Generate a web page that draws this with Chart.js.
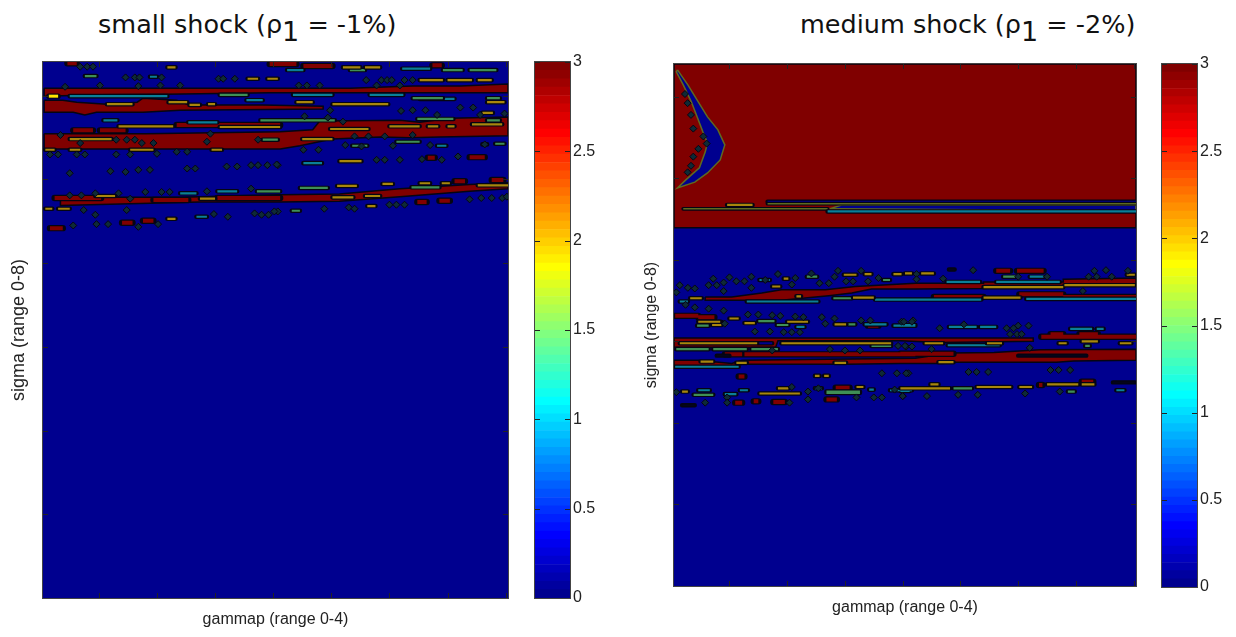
<!DOCTYPE html>
<html>
<head>
<meta charset="utf-8">
<script src="https://cdn.jsdelivr.net/npm/chart.js@4"></script>
<style>
  html, body { margin: 0; padding: 0; background: #fff; width: 1236px; height: 637px; overflow: hidden; }
  canvas { position: absolute; top: 0; }
  #smallMap, #mediumMap { filter: blur(0.6px); }
  .title { position: absolute; font: 25.5px "DejaVu Sans", sans-serif; color: #111; white-space: pre; }
  .title sub { font-size: 27px; line-height: 0; vertical-align: -8px; }
</style>
</head>
<body>
<div class="title" style="left:98px;top:9px">small shock (ρ<sub>1</sub> = -1%)</div>
<div class="title" style="left:800px;top:9px">medium shock (ρ<sub>1</sub> = -2%)</div>
<canvas id="smallMap" width="525" height="637" style="left:0"></canvas>
<canvas id="smallBar" width="75" height="637" style="left:525px"></canvas>
<canvas id="mediumMap" width="525" height="637" style="left:630px"></canvas>
<canvas id="mediumBar" width="75" height="637" style="left:1152px"></canvas>
<script>
// -------- DATA (gammap 0-4, sigma 0-8) --------
const gammaTicks = [0.48, 0.98, 1.48, 1.98, 2.48, 2.98, 3.48, 3.98];
const sigmaTicks = [1.25, 2.5, 3.75, 5, 6.25, 7.5];
const barTicks = [0, 0.5, 1, 1.5, 2, 2.5, 3];
const xTitle = 'gammap (range 0-4)';
const yTitle = 'sigma (range 0-8)';

// closed regions [gamma, sigma]
const smallRedShapes = [
  [[.01,7.61],[1.35,7.61],[2.64,7.61],[3.18,7.64],[3.59,7.64],[4,7.67],[4,7.54],[3.18,7.54],[2.64,7.54],[1.95,7.54],[1.05,7.52],[.49,7.51],[.01,7.49]],
  [[.01,7.43],[.17,7.43],[.29,7.40],[.55,7.37],[.81,7.40],[.86,7.46],[1.15,7.43],[1.26,7.36],[1.89,7.36],[2.41,7.34],[2.41,7.30],[1.18,7.28],[.86,7.25],[.46,7.25],[.36,7.21],[.26,7.25],[.01,7.25]],
  [[.01,6.93],[.88,6.93],[2.04,6.96],[2.32,6.99],[2.38,7.12],[3.07,7.13],[3.24,7.10],[3.50,7.16],[4,7.18],[4,6.90],[3.41,6.88],[3.16,6.87],[2.90,6.88],[2.49,6.85],[2.21,6.75],[2.04,6.70],[.01,6.70]],
  [[.15,5.98],[1.18,5.98],[2.04,6.02],[2.55,6.03],[3.07,6.11],[3.67,6.17],[4,6.20],[4,6.11],[3.67,6.07],[3.07,5.99],[2.55,5.92],[2.04,5.91],[1.35,5.91],[.15,5.86]]
];
// streaks [gamma from, gamma to, sigma]
const smallRed = [[.21,.29,7.98],[1.95,2.18,7.97],[2.24,2.49,7.94],[3.35,3.43,7.95],[.26,.43,6.98],[.49,.71,6.98],[1.15,2.04,7.06],[3.31,3.37,6.57],[3.67,3.80,6.58],[.17,.34,5.97],[3.86,3.96,6.24],[3.54,3.63,6.22],[3.22,3.30,5.91],[3.41,3.50,5.93],[.68,.77,5.60],[.86,.95,5.63],[.06,.17,5.52],[.1,.5,5.97],[.95,1.25,5.94],[1.5,2.04,5.97]];
const smallGold = [[1.07,1.14,7.92],[2.58,2.73,7.92],[2.77,2.90,7.92],[1.76,1.85,7.75],[1.93,2.02,7.75],[3.24,3.44,7.73],[3.48,3.69,7.73],[3.74,3.86,7.73],[1.08,1.24,7.40],[.55,.77,7.37],[1.26,1.35,7.36],[1.42,1.48,7.37],[2.18,2.32,7.40],[2.49,2.73,7.37],[2.73,2.97,7.37],[3.82,3.97,7.40],[2.47,2.80,7.00],[2.98,3.24,7.04],[3.31,3.40,7.04],[3.48,3.54,7.04],[3.69,3.95,7.07],[.65,1.12,7.04],[1.52,2.04,7.03],[.23,.59,6.85],[2.23,2.49,6.85],[.02,.10,6.69],[.23,.32,6.69],[.75,.95,6.69],[1.45,1.54,6.69],[2.55,2.74,6.52],[3.78,3.87,7.24],[2.53,2.70,6.15],[2.92,3.01,6.18],[3.24,3.33,6.19],[3.43,3.50,6.19],[3.74,4,6.16],[2.49,2.67,5.98],[2.77,2.90,6.00],[2.79,2.86,5.85],[.02,.08,5.81],[.13,.23,5.81],[1.07,1.14,5.66],[.45,.62,6.00],[1.35,1.48,5.96]];
const smallGreen = [[.36,.46,7.79],[2.64,2.77,7.88],[3.44,3.61,7.88],[3.67,3.90,7.88],[1.52,1.76,7.51],[3.18,3.44,7.46],[3.82,3.93,7.46],[1.95,2.51,7.13],[3.22,3.53,7.15],[3.82,3.93,7.13],[1.87,2.04,7.13],[2.66,2.79,6.75],[3.04,3.24,6.81],[3.78,3.82,6.77],[3.89,3.97,6.78],[1.89,2.02,6.84],[2.21,2.45,6.12],[3.17,3.41,6.13],[1.84,2.04,6.07],[2.14,2.21,5.78]];
const smallTeal = [[.92,.98,7.78],[2.10,2.24,7.88],[3.09,3.33,7.90],[.23,1.07,7.49],[2.15,2.49,7.51],[2.81,3.10,7.51],[1.75,1.89,7.43],[3.24,3.54,7.45],[1.25,1.50,7.10],[.52,.64,7.13],[3.39,3.47,6.75],[1.18,1.32,6.04],[1.50,1.67,6.07],[1.32,1.41,5.69],[2.24,2.40,6.49]];
const smallYellow = [[.05,.13,7.49]];
const smallDots = [[.32,7.93],[.38,7.93],[.43,7.93],[.71,7.77],[.79,7.77],[.83,7.77],[1.02,7.77],[1.51,7.75],[1.55,7.75],[1.65,7.75],[.19,7.63],[.49,7.65],[.82,7.64],[1.01,7.65],[1.18,7.65],[1.44,6.93],[.15,6.91],[.32,6.79],[.63,6.84],[.72,6.84],[.79,6.84],[.85,6.79],[.95,6.79],[1.41,6.81],[1.85,6.84],[.06,6.62],[.13,6.62],[.29,6.62],[.36,6.62],[.63,6.62],[.75,6.62],[.98,6.63],[1.15,6.66],[1.24,6.66],[.23,6.34],[.58,6.37],[.71,6.36],[.82,6.39],[.92,6.39],[1.24,6.41],[1.31,6.41],[1.58,6.44],[1.67,6.44],[1.79,6.46],[1.85,6.46],[1.93,6.46],[2.02,6.46],[.45,5.72],[.35,5.79],[.72,5.79],[1.59,5.69],[1.82,5.74],[1.88,5.72],[1.94,5.72],[2.02,5.77],[1.47,5.73],[.26,5.56],[.46,5.58],[.56,5.58],[.82,5.54],[.99,5.58],[.23,6.01],[.33,6.01],[.45,6.04],[.65,6.04],[.88,6.06],[1.02,6.06],[1.09,6.06],[1.41,6.07],[1.79,6.11],[.75,5.96],
  [2.78,7.73],[2.91,7.73],[2.96,7.73],[3.00,7.73],[3.11,7.73],[3.18,7.73],[2.20,7.65],[2.27,7.65],[2.38,7.65],[2.87,7.65],[3.07,7.65],[2.25,7.19],[2.47,7.28],[3.18,7.28],[3.29,7.28],[3.08,7.27],[3.59,7.32],[3.70,7.32],[2.58,7.11],[2.45,7.17],[3.39,7.21],[3.76,7.21],[3.97,7.23],[2.68,6.89],[2.80,6.89],[2.94,6.89],[3.18,6.91],[2.24,6.69],[2.37,6.69],[2.60,6.76],[2.74,6.74],[3.80,6.77],[3.33,6.76],[3.01,6.75],[2.01,6.47],[2.87,6.54],[2.94,6.54],[3.07,6.54],[3.26,6.55],[3.43,6.54],[3.57,6.59],[1.99,5.77],[2.42,5.81],[2.63,5.83],[2.68,5.81],[2.98,5.87],[3.04,5.87],[3.11,5.87],[3.67,5.95],[3.77,5.97],[3.86,5.97],[3.95,5.97],[3.99,5.99]];

const mediumRedShapes = [
  [[0,8],[4,8],[4,5.49],[0,5.49]],
  [[.27,4.43],[.50,4.43],[.76,4.49],[.93,4.54],[1.31,4.54],[1.57,4.59],[2.09,4.64],[2.68,4.64],[2.68,4.66],[3.37,4.66],[3.37,4.70],[4,4.72],[4,4.62],[3.37,4.60],[2.68,4.56],[2.09,4.55],[1.71,4.55],[1.54,4.49],[1.34,4.45],[.93,4.38],[.27,4.38]],
  [[0,3.80],[3.11,3.80],[3.11,3.75],[2.3,3.73],[1.96,3.76],[.90,3.76],[.88,3.66],[0,3.66]],
  [[0,3.46],[.21,3.46],[.50,3.41],[.59,3.46],[2.09,3.49],[2.39,3.57],[2.77,3.58],[3.17,3.62],[4,3.63],[4,3.46],[3.46,3.45],[3.31,3.43],[2.42,3.43],[2.33,3.41],[1.96,3.41],[1.5,3.40],[.59,3.40],[.50,3.36],[0,3.36]]
];
const mediumBlueShapes = [
  [[.03,7.91],[.12,7.68],[.21,7.42],[.29,7.19],[.38,6.99],[.44,6.76],[.40,6.53],[.29,6.33],[.18,6.19],[.03,6.10],[.10,6.22],[.22,6.41],[.27,6.65],[.29,6.79],[.25,6.96],[.20,7.19],[.15,7.42],[.08,7.68],[.02,7.88]],
  [[1.45,5.84],[4,5.84],[4,5.75],[1.35,5.78]]
];
const mediumNavy = [[.81,4,5.89],[.73,.85,3.72]];
const mediumOlive = [[.81,4,5.86],[.08,1.33,5.78]];
const mediumRed = [[2.25,2.68,4.43],[2.99,3.37,4.47],[3.37,4,4.43],[2.79,2.91,4.83],[2.97,3.2,4.83],[.01,.21,4.14],[.21,.35,4.12],[.33,.41,4.03],[1.68,1.77,3.99],[3.18,4,3.82],[3.26,3.37,3.86],[3.51,3.67,3.86],[.44,.59,3.55],[.61,2.09,3.55],[1.96,2.42,3.56],[3.53,3.63,3.13],[1.32,1.41,2.86],[.86,.96,2.82],[.69,.73,2.83],[.53,.59,2.81],[.56,.61,3.21],[1.40,1.52,3.04],[3.16,3.19,3.08]];
const mediumGold = [[.46,.68,5.84],[1.55,1.73,4.42],[.14,.24,4.41],[1.06,1.10,4.44],[3.38,3.99,4.61],[2.68,3.37,4.58],[3.92,3.99,4.77],[2.68,3.0,4.42],[2.0,2.06,4.79],[2.14,2.25,4.79],[1.47,1.58,4.77],[1.65,1.71,4.78],[1.9,1.97,4.78],[.85,.92,4.59],[.95,.99,4.71],[.48,.56,4.10],[.21,.40,4.05],[.33,.41,4.0],[.61,.70,4.03],[.98,1.16,4.05],[1.39,1.49,4.01],[.05,.72,3.72],[.93,1.88,3.72],[2.17,2.33,3.72],[2.71,2.84,3.72],[3.33,3.40,3.72],[3.53,3.67,3.75],[3.86,3.96,3.72],[.23,.34,3.44],[.54,.63,3.42],[1.39,1.49,3.42],[2.29,2.42,3.43],[1.22,1.26,3.22],[1.30,1.34,3.22],[1.58,1.64,3.05],[.07,.12,2.98],[.74,1.09,2.95],[.90,.99,3.03],[1.96,2.39,3.03],[2.62,2.92,3.05],[2.99,3.10,3.05],[3.23,3.50,3.09],[3.53,3.64,3.09],[2.22,2.29,3.09]];
const mediumGreen = [[1.38,1.54,4.41],[2.85,2.96,4.74],[1.81,1.87,4.69],[1.15,1.24,4.74],[.73,.87,4.06],[.89,.99,4.00],[.20,.30,3.99],[1.51,1.57,4.01],[1.71,1.88,3.68],[.02,.30,3.63],[.34,.63,3.63],[.67,.90,3.63],[3.56,3.60,3.68],[1.32,1.61,2.98],[1.32,1.61,2.96],[.17,.34,2.93],[2.42,2.58,3.03],[3.41,3.47,2.98]];
const mediumTeal = [[1.33,4,5.74],[1.96,2.66,4.39],[3.05,4,4.40],[1.74,2.09,4.39],[.63,1.25,4.36],[.05,.12,4.36],[2.79,3.34,4.66],[2.36,2.65,4.66],[3.08,3.2,4.74],[.74,.83,4.69],[1.06,1.13,3.97],[1.65,1.84,4.01],[1.90,2.09,3.99],[1.96,2.09,4.0],[2.38,2.62,3.97],[2.65,2.79,3.97],[3.43,3.62,3.94],[3.66,3.72,3.94],[2.37,2.82,3.69],[.01,.56,3.36],[1.69,1.73,3.01],[1.87,2.06,3.0],[.21,.31,3.0],[.44,.54,2.94],[.57,.64,3.0],[1.22,1.28,3.03],[1.96,2.04,2.99],[3.83,3.90,3.0]];
const mediumDark = [[2.98,3.57,3.53],[3.80,3.99,3.12],[.07,.18,2.77],[2.38,2.43,4.85],[.37,.48,3.53]];
const mediumDots = [[.095,7.54],[.118,7.40],[.147,7.22],[.167,7.01],[.254,6.89],[.211,6.70],[.167,6.58],[.147,6.44],[.118,6.34],[.283,6.78],
  [.05,4.61],[.12,4.57],[.18,4.56],[.30,4.61],[.34,4.71],[.37,4.61],[.43,4.65],[.48,4.73],[.54,4.67],[.61,4.67],[.67,4.74],[.67,4.57],[.79,4.69],[.90,4.78],[1.02,4.62],[1.05,4.72],[1.19,4.79],[1.26,4.64],[1.34,4.64],[1.39,4.74],[1.42,4.83],[1.49,4.67],[1.55,4.67],[1.62,4.83],[1.68,4.67],[1.77,4.72],[.02,4.50],[.10,4.31],[.18,4.27],[.30,4.25],[.43,4.22],[.43,4.52],[.64,4.16],[.73,4.16],[.85,4.15],[.92,4.14],[1.05,4.13],[1.12,4.12],[1.28,4.12],[1.39,4.10],[1.62,4.07],[1.70,4.07],[1.97,4.05],[2.07,4.07],[.44,4.02],[1.31,4.02],[.70,3.90],[.83,3.90],[1.02,3.89],[1.09,3.89],[.95,3.89],[1.35,3.63],[1.48,3.61],[1.61,3.61],[.85,3.61],[2.01,3.67],[1.94,3.68],[1.80,3.26],[1.93,3.26],[2.03,3.26],[.02,2.97],[.46,2.89],[1.16,2.98],[1.02,3.05],[1.25,3.03],[1.16,2.86],[1.58,2.89],[1.73,2.89],[1.80,2.89],[1.91,3.01],[1.98,2.91],[.27,2.81],[.46,2.81],[1.00,2.81],
  [2.10,4.78],[2.10,4.70],[2.33,4.71],[2.98,4.74],[3.23,4.74],[3.59,4.74],[3.66,4.74],[3.79,4.74],[3.64,4.83],[3.74,4.84],[3.93,4.83],[3.54,4.52],[2.59,4.84],[1.99,4.05],[2.06,4.05],[2.30,3.95],[2.51,4.01],[2.88,3.95],[2.94,3.95],[2.98,3.99],[3.07,3.99],[2.91,3.86],[2.97,3.86],[3.01,3.86],[2.00,3.68],[2.06,3.67],[2.23,3.63],[3.08,3.65],[2.55,3.28],[2.62,3.28],[2.72,3.28],[2.01,3.26],[3.26,3.31],[3.33,3.31],[3.43,3.31],[1.98,2.91],[2.19,2.91],[2.46,2.93],[2.63,2.93],[3.04,2.95],[3.34,2.98]];

// colour bar levels (jet, 64 steps from 0 to 3)
const jetLevels = ['#00008f','#00009f','#0000af','#0000bf','#0000cf','#0000df','#0000ef','#0000ff','#0010ff','#0020ff','#0030ff','#0040ff','#0050ff','#0060ff','#0070ff','#0080ff','#008fff','#009fff','#00afff','#00bfff','#00cfff','#00dfff','#00efff','#00ffff','#10ffef','#20ffdf','#30ffcf','#40ffbf','#50ffaf','#60ff9f','#70ff8f','#80ff80','#8fff70','#9fff60','#afff50','#bfff40','#cfff30','#dfff20','#efff10','#ffff00','#ffef00','#ffdf00','#ffcf00','#ffbf00','#ffaf00','#ff9f00','#ff8f00','#ff8000','#ff7000','#ff6000','#ff5000','#ff4000','#ff3000','#ff2000','#ff1000','#ff0000','#ef0000','#df0000','#cf0000','#bf0000','#af0000','#9f0000','#8f0000','#800000'];

// -------- STYLE --------
const NAVY = '#00008f', DARKRED = '#800000', GOLD = '#a8860c', GREEN = '#3f8f55', TEAL = '#0a7f98', OLIVE = '#5e6a20', YELLOW = '#ffe600', EDGE = '#050512';

// -------- HELPERS --------
const shape = (pts, color, edge) => ({
  data: [...pts, pts[0]].map(p => ({ x: p[0], y: p[1] })),
  showLine: true, fill: 'shape', backgroundColor: color,
  borderColor: edge, borderWidth: 1.5, pointRadius: 0, tension: 0
});

const streakPoints = list => list.flatMap(s => [{ x: s[0], y: s[2] }, { x: s[1], y: s[2] }, { x: null, y: null }]);

const streaks = (list, color, width) => [
  { data: streakPoints(list), showLine: true, spanGaps: false, borderColor: EDGE, borderWidth: width + 2.4, borderCapStyle: 'round', pointRadius: 0, tension: 0 },
  { data: streakPoints(list), showLine: true, spanGaps: false, borderColor: color, borderWidth: width, borderCapStyle: 'butt', pointRadius: 0, tension: 0 }
];

const dots = list => ({
  data: list.map(p => ({ x: p[0], y: p[1] })),
  showLine: false, pointStyle: 'rectRot', pointRadius: 3.5,
  backgroundColor: '#0e2a36', borderColor: EDGE, borderWidth: 1
});

// inward ticks and box, Matlab style
const boxTicks = {
  id: 'boxTicks',
  afterDraw(chart) {
    const { ctx, chartArea: a, scales } = chart;
    ctx.save();
    ctx.strokeStyle = '#222';
    ctx.lineWidth = 1;
    if (scales.x.options.ticks.display === false && scales.x.ticks.length) {
      scales.x.ticks.forEach(t => {
        const px = Math.round(scales.x.getPixelForValue(t.value)) + 0.5;
        ctx.beginPath();
        ctx.moveTo(px, a.bottom); ctx.lineTo(px, a.bottom - 5);
        ctx.moveTo(px, a.top); ctx.lineTo(px, a.top + 5);
        ctx.stroke();
      });
    }
    scales.y.ticks.forEach(t => {
      const py = Math.round(scales.y.getPixelForValue(t.value)) + 0.5;
      ctx.beginPath();
      ctx.moveTo(a.left, py); ctx.lineTo(a.left + 5, py);
      ctx.moveTo(a.right, py); ctx.lineTo(a.right - 5, py);
      ctx.stroke();
    });
    ctx.strokeStyle = '#444';
    ctx.strokeRect(a.left - 0.5, a.top - 0.5, a.right - a.left + 1, a.bottom - a.top + 1);
    ctx.restore();
  }
};

function drawMap(id, layers, box) {
  new Chart(document.getElementById(id), {
    type: 'scatter',
    data: { datasets: layers.slice().reverse() },
    plugins: [boxTicks],
    options: {
      responsive: false,
      animation: false,
      layout: { padding: { top: box.top, right: box.right, left: 0, bottom: 0 } },
      plugins: { legend: { display: false }, tooltip: { enabled: false } },
      scales: {
        x: {
          type: 'linear', min: 0, max: 4,
          grid: { display: false }, border: { display: false },
          ticks: { display: false },
          afterBuildTicks: s => { s.ticks = gammaTicks.map(v => ({ value: v })); },
          afterFit: s => { s.height = box.bottom; },
          title: { display: true, text: xTitle, color: '#222', padding: { top: 0, bottom: box.titleBottom }, font: { family: 'Liberation Sans', size: 16 } }
        },
        y: {
          type: 'linear', min: 0, max: 8,
          grid: { display: false }, border: { display: false },
          ticks: { display: false },
          afterBuildTicks: s => { s.ticks = sigmaTicks.map(v => ({ value: v })); },
          afterFit: s => { s.width = box.left; },
          title: { display: true, text: yTitle, color: '#222', padding: { top: box.titleLeft, bottom: 0 }, font: { family: 'Liberation Sans', size: box.yFont } }
        }
      }
    }
  });
}

function drawBar(id, box) {
  new Chart(document.getElementById(id), {
    type: 'bar',
    data: {
      labels: ['level'],
      datasets: jetLevels.map((c, i) => ({
        data: [[i * 3 / jetLevels.length, (i + 1) * 3 / jetLevels.length]],
        backgroundColor: c, grouped: false, barPercentage: 1, categoryPercentage: 1, borderWidth: 0
      }))
    },
    plugins: [boxTicks],
    options: {
      responsive: false,
      animation: false,
      layout: { padding: { top: box.top, bottom: box.bottom, left: box.left, right: 0 } },
      plugins: { legend: { display: false }, tooltip: { enabled: false } },
      scales: {
        x: { display: false },
        y: {
          position: 'right', min: 0, max: 3,
          grid: { display: false, drawTicks: false }, border: { display: false },
          afterBuildTicks: s => { s.ticks = barTicks.map(v => ({ value: v })); },
          afterFit: s => { s.width = 30; },
          ticks: { padding: 3, color: '#222', font: { family: 'Liberation Sans', size: 16 }, callback: v => String(v) }
        }
      }
    }
  });
}

// -------- CHARTS --------
drawMap('smallMap', [
  shape([[0, 0], [4, 0], [4, 8], [0, 8]], NAVY, NAVY),
  ...smallRedShapes.map(p => shape(p, DARKRED, EDGE)),
  ...streaks(smallRed, DARKRED, 4),
  ...streaks(smallTeal, TEAL, 2.2),
  ...streaks(smallGreen, GREEN, 2.2),
  ...streaks(smallGold, GOLD, 2.2),
  ...streaks(smallYellow, YELLOW, 3),
  dots(smallDots)
], { top: 62, right: 17, left: 43, bottom: 39, titleBottom: 8, titleLeft: 8.5, yFont: 18 });

drawMap('mediumMap', [
  shape([[0, 0], [4, 0], [4, 8], [0, 8]], NAVY, NAVY),
  ...mediumRedShapes.map(p => shape(p, DARKRED, EDGE)),
  ...mediumBlueShapes.map(p => shape(p, NAVY, OLIVE)),
  ...streaks(mediumNavy, NAVY, 2),
  ...streaks(mediumOlive, OLIVE, 1.5),
  ...streaks(mediumRed, DARKRED, 4),
  ...streaks(mediumTeal, TEAL, 2.2),
  ...streaks(mediumGreen, GREEN, 2.2),
  ...streaks(mediumGold, GOLD, 2.2),
  ...streaks(mediumDark, '#05051a', 2),
  dots(mediumDots)
], { top: 64, right: 19, left: 44, bottom: 51, titleBottom: 20, titleLeft: 12, yFont: 16 });

drawBar('smallBar', { top: 62, bottom: 39, left: 10 });
drawBar('mediumBar', { top: 64, bottom: 50, left: 10 });
</script>
</body>
</html>
